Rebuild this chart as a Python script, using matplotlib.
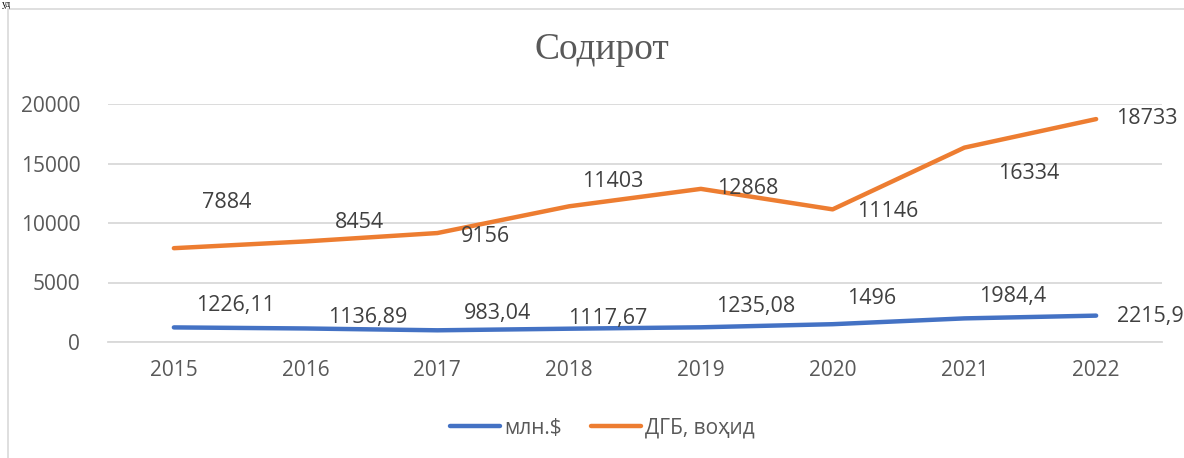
import matplotlib.pyplot as plt
import matplotlib.patches as mpatches

years = ['2015', '2016', '2017', '2018', '2019', '2020', '2021', '2022']
mln_usd = [1226.11, 1136.89, 983.04, 1117.67, 1235.08, 1496, 1984.4, 2215.9]
dgb_units = [7884, 8454, 9156, 11403, 12868, 11146, 16334, 18733]
mln_labels = ['1226,11', '1136,89', '983,04', '1117,67', '1235,08', '1496', '1984,4', '2215,9']
dgb_labels = ['7884', '8454', '9156', '11403', '12868', '11146', '16334', '18733']

# label offsets in pixels (dx, dy)
mln_offsets = [(62, 22), (62, 11), (60, 17), (39, 10), (55, 21), (39, 26), (48, 22), (54, -1)]
dgb_offsets = [(53, 46), (54, 19), (48, -3), (44, 25), (47, 0), (55, -2), (64, -26), (51, 1)]

plt.rcParams['font.family'] = ['Open Sans', 'DejaVu Sans']

fig = plt.figure(figsize=(11.84, 4.58), dpi=100)
ax = fig.add_axes([108 / 1184, 1 - 342 / 458, 1054 / 1184, 238 / 458])

# chart frame
fig.patches.append(mpatches.Rectangle((8 / 1184, -0.1), 1.2, 1.1 - 9 / 458,
                                      transform=fig.transFigure, fill=False,
                                      edgecolor='#D9D9D9', linewidth=1.2))
# leftover of the text above the chart
fig.text(2 / 1184, 1.0, 'уд', family='Liberation Serif', fontsize=7, va='top', color='black')

x = list(range(len(years)))
blue = '#4472C4'
orange = '#ED7D31'
ax.plot(x, mln_usd, color=blue, linewidth=3.2, solid_capstyle='round', label='млн.$', zorder=3)
ax.plot(x, dgb_units, color=orange, linewidth=3.2, solid_capstyle='round', label='ДГБ, воҳид', zorder=3)

for xi, v, lab, off in zip(x, mln_usd, mln_labels, mln_offsets):
    ax.annotate(lab, (xi, v), xytext=(off[0] * 0.72, off[1] * 0.72), textcoords='offset points',
                ha='center', va='center', fontsize=15.5, color='#404040', annotation_clip=False)
for xi, v, lab, off in zip(x, dgb_units, dgb_labels, dgb_offsets):
    ax.annotate(lab, (xi, v), xytext=(off[0] * 0.72, off[1] * 0.72), textcoords='offset points',
                ha='center', va='center', fontsize=15.5, color='#404040', annotation_clip=False)

ax.set_xlim(-0.5, len(years) - 0.5)
ax.set_ylim(0, 20000)
ax.set_yticks([0, 5000, 10000, 15000, 20000])
ax.set_yticklabels(['0', '5000', '10000', '15000', '20000'])
ax.set_xticks(x)
ax.set_xticklabels(years)
ax.tick_params(axis='both', length=0, labelsize=15, labelcolor='#595959')
ax.tick_params(axis='y', pad=20)
ax.tick_params(axis='x', pad=13)
ax.grid(axis='y', color='#D9D9D9', linewidth=1.3)
ax.set_axisbelow(True)
for s in ['top', 'right', 'left']:
    ax.spines[s].set_visible(False)
ax.spines['bottom'].set_color('#D9D9D9')
ax.spines['bottom'].set_linewidth(1.3)

fig.text(0.508, 1 - 50 / 458, 'Содирот', family='Liberation Serif', fontsize=27,
         color='#595959', ha='center', va='center')

fig.legend(loc='center', bbox_to_anchor=(0.509, 1 - 428 / 458), ncol=2, frameon=False,
           fontsize=15, labelcolor='#595959', handlelength=2.4, handletextpad=0.2,
           columnspacing=1.4)

fig.savefig('out.png', dpi=100)
